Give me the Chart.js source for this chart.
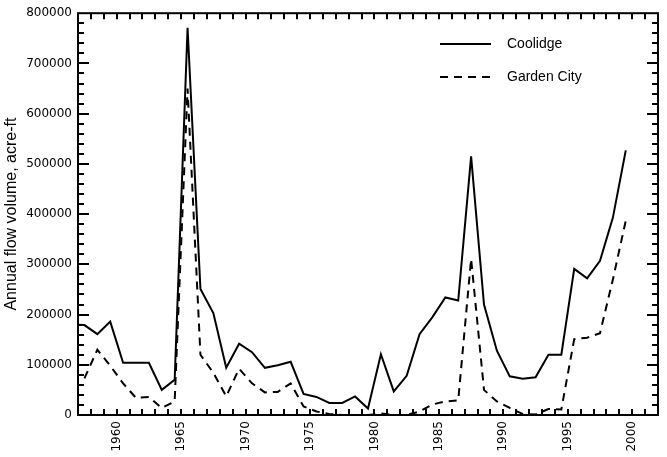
<!DOCTYPE html>
<html>
<head>
<meta charset="utf-8">
<script src="https://cdn.jsdelivr.net/npm/chart.js@4.4.0/dist/chart.umd.min.js"></script>
<style>
  html, body { margin: 0; padding: 0; background: #fff; }
  canvas { display: block; }
</style>
</head>
<body>
<canvas id="flow-chart" width="667" height="457"></canvas>
<script>
// Annual flow volume (acre-ft) by water year
const coolidgeYears = [
  1956, 1957, 1958, 1959, 1960, 1961, 1962, 1963, 1964, 1965, 1966,
  1967, 1968, 1969, 1970, 1971, 1972, 1973, 1974, 1975, 1976, 1977,
  1978, 1979, 1980, 1981, 1982, 1983, 1984, 1985, 1986, 1987, 1988,
  1989, 1990, 1991, 1992, 1993, 1994, 1995, 1996, 1997, 1998, 1999,
];
const coolidgeVolume = [
  180000, 179000, 161000, 186000, 104000, 104000, 104000, 50000, 70000, 771000, 251000,
  203000, 94000, 142000, 125000, 94000, 99000, 106000, 42000, 36000, 24000, 24000,
  37000, 13000, 121000, 47000, 78000, 161000, 195000, 234000, 228000, 515000, 220000,
  128000, 77000, 72000, 75000, 120000, 120000, 291000, 272000, 307000, 393000, 527000,
];

const gardenCityYears = [
  1957, 1958, 1959, 1960, 1961, 1962, 1963, 1964, 1965, 1966,
  1967, 1968, 1969, 1970, 1971, 1972, 1973, 1974, 1975, 1976, 1977,
  1978, 1979, 1980, 1981, 1982, 1983, 1984, 1985, 1986, 1987, 1988,
  1989, 1990, 1991, 1992, 1993, 1994, 1995, 1996, 1997, 1998, 1999,
];
const gardenCityVolume = [
  73000, 130000, 98000, 63000, 34000, 36000, 14000, 27000, 650000, 120000,
  84000, 37000, 92000, 63000, 45000, 46000, 63000, 17000, 7000, 2000, 0,
  0, 0, 3000, 0, 0, 7000, 21000, 27000, 29000, 311000, 50000,
  27000, 14000, 2000, 1000, 12000, 11000, 151000, 154000, 163000, 270000, 387000,
];

const yearTicks = [1960, 1965, 1970, 1975, 1980, 1985, 1990, 1995, 2000];
const volumeTicks = [0, 100000, 200000, 300000, 400000, 500000, 600000, 700000, 800000];

// each water year is plotted at the middle of its year
const toPoints = (years, values) =>
  years.map((yr, i) => ({ x: yr + 0.5, y: values[i] }));

// Box round the plot, inward tick marks and the legend inside the plot
const frameAndTicks = {
  id: "frameAndTicks",
  afterDatasetsDraw(chart) {
    const { ctx, chartArea: area } = chart;
    const xScale = chart.scales.x;
    const yScale = chart.scales.y;

    ctx.save();
    ctx.strokeStyle = "#000";
    ctx.lineWidth = 2;
    ctx.setLineDash([]);
    ctx.beginPath();
    for (let yr = Math.ceil(xScale.min) + 1; yr < xScale.max; yr++) {
      const px = Math.round(xScale.getPixelForValue(yr));
      ctx.moveTo(px, area.bottom);
      ctx.lineTo(px, area.bottom - 6);
      ctx.moveTo(px, area.top);
      ctx.lineTo(px, area.top + 6);
    }
    for (let v = yScale.min + 20000; v < yScale.max; v += 20000) {
      const py = Math.round(yScale.getPixelForValue(v));
      const len = v % 100000 === 0 ? 11 : 6;
      ctx.moveTo(area.left, py);
      ctx.lineTo(area.left + len, py);
      ctx.moveTo(area.right, py);
      ctx.lineTo(area.right - len, py);
    }
    ctx.stroke();
    ctx.strokeRect(area.left, area.top, area.right - area.left, area.bottom - area.top);

    // legend
    ctx.font = "14px 'Liberation Sans', Arial, sans-serif";
    ctx.fillStyle = "#000";
    ctx.textBaseline = "middle";
    chart.data.datasets.forEach((ds, i) => {
      const ly = 44 + i * 33;
      ctx.setLineDash(ds.borderDash || []);
      ctx.lineWidth = ds.borderWidth;
      ctx.beginPath();
      ctx.moveTo(440, ly);
      ctx.lineTo(491, ly);
      ctx.stroke();
      ctx.fillText(ds.label, 507, ly);
    });
    ctx.restore();
  },
};

const tickFont = { family: "'DejaVu Sans', sans-serif", size: 12 };

new Chart(document.getElementById("flow-chart"), {
  type: "line",
  data: {
    datasets: [
      {
        label: "Coolidge",
        data: toPoints(coolidgeYears, coolidgeVolume),
        borderColor: "#000",
        borderWidth: 2,
        pointRadius: 0,
        tension: 0,
      },
      {
        label: "Garden City",
        data: toPoints(gardenCityYears, gardenCityVolume),
        borderColor: "#000",
        borderWidth: 2,
        borderDash: [8, 6],
        pointRadius: 0,
        tension: 0,
      },
    ],
  },
  options: {
    responsive: false,
    animation: false,
    devicePixelRatio: 1,
    layout: { padding: { top: 8, right: 9, left: 0, bottom: 0 } },
    plugins: { legend: { display: false }, tooltip: { enabled: false } },
    scales: {
      x: {
        type: "linear",
        min: 1957,
        max: 2002,
        grid: { display: false, drawTicks: false, tickLength: 0 },
        border: { display: false },
        afterBuildTicks: (scale) => {
          scale.ticks = yearTicks.map((v) => ({ value: v }));
        },
        afterFit: (scale) => {
          scale.height = 42;
        },
        ticks: {
          autoSkip: false,
          minRotation: 90,
          maxRotation: 90,
          padding: 6,
          color: "#000",
          font: tickFont,
          callback: (v) => String(v),
        },
      },
      y: {
        min: 0,
        max: 800000,
        grid: { display: false, drawTicks: false, tickLength: 0 },
        border: { display: false },
        afterBuildTicks: (scale) => {
          scale.ticks = volumeTicks.map((v) => ({ value: v }));
        },
        afterFit: (scale) => {
          scale.width = 78;
        },
        ticks: {
          padding: 6,
          color: "#000",
          font: tickFont,
          callback: (v) => String(v),
        },
        title: {
          display: true,
          text: "Annual flow volume, acre-ft",
          color: "#000",
          font: { family: "'Liberation Sans', Arial, sans-serif", size: 16 },
          padding: { top: 2, bottom: 0 },
        },
      },
    },
  },
  plugins: [frameAndTicks],
});
</script>
</body>
</html>
